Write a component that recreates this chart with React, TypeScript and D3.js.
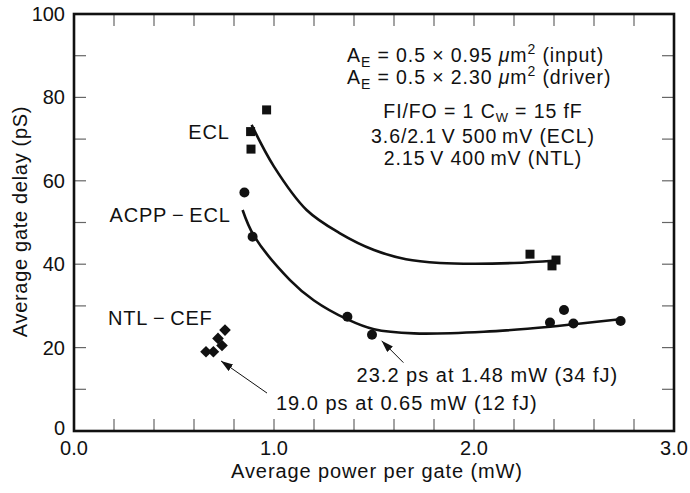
import React, { useRef, useEffect } from "react";
import * as d3 from "d3";

// measured points
const eclPower = [0.963, 0.883, 0.885, 2.28, 2.41, 2.39];
const eclDelay = [77.0, 71.8, 67.6, 42.4, 41.0, 39.6];
const acppPower = [0.852, 0.893, 1.367, 1.49, 2.38, 2.45, 2.497, 2.733];
const acppDelay = [57.2, 46.6, 27.4, 23.1, 26.0, 29.0, 25.8, 26.4];
const ntlPower = [0.66, 0.697, 0.72, 0.755, 0.74];
const ntlDelay = [19.0, 19.0, 22.2, 24.2, 20.5];

// trend lines
const eclFitPower = [0.888, 1.0, 1.163, 1.33, 1.5, 1.66, 1.83, 2.0, 2.2, 2.41];
const eclFitDelay = [73.4, 63.4, 53.0, 47.4, 43.4, 41.2, 40.3, 40.1, 40.3, 40.9];
const acppFitPower = [0.843, 0.9, 1.08, 1.2, 1.37, 1.5, 1.7, 2.05, 2.38, 2.5, 2.73];
const acppFitDelay = [53.0, 46.8, 36.2, 31.3, 26.7, 24.4, 23.4, 23.8, 25.0, 25.6, 26.8];

const xTickLabels = ["0.0", "1.0", "2.0", "3.0"];
const yTickLabels = ["0", "20", "40", "60", "80", "100"];

const FONT = "'Liberation Sans', Arial, Helvetica, sans-serif";

const App = () => {
  const chartRef = useRef<HTMLDivElement>(null);

  useEffect(() => {
    const width = 690;
    const height = 493;
    const margin = { top: 14, right: 16, bottom: 62, left: 74 };
    const chartWidth = width - margin.left - margin.right;
    const chartHeight = height - margin.top - margin.bottom;

    d3.select(chartRef.current).selectAll("*").remove();

    const svg = d3
      .select(chartRef.current)
      .append("svg")
      .attr("width", width)
      .attr("height", height)
      .style("position", "absolute")
      .style("left", 0)
      .style("top", 0)
      .style("background", "#fff")
      .style("font-family", FONT);

    svg
      .append("defs")
      .append("marker")
      .attr("id", "head")
      .attr("viewBox", "0 0 12 8")
      .attr("refX", 12)
      .attr("refY", 4)
      .attr("markerWidth", 12)
      .attr("markerHeight", 8)
      .attr("markerUnits", "userSpaceOnUse")
      .attr("orient", "auto")
      .append("path")
      .attr("d", "M0,0 L12,4 L0,8 Z")
      .attr("fill", "#111");

    const chart = svg
      .append("g")
      .attr("transform", `translate(${margin.left}, ${margin.top})`);

    const x = d3.scaleLinear().domain([0, 3]).range([0, chartWidth]);
    const y = d3.scaleLinear().domain([0, 100]).range([chartHeight, 0]);

    // inner ticks on all four sides
    const xt = d3.range(0.2, 3, 0.2);
    const yt = d3.range(10, 100, 10);
    const tickLen = 12;
    const ticks = chart.append("g").attr("stroke", "#666").attr("stroke-width", 1.2);
    xt.forEach((v) => {
      ticks.append("line").attr("x1", x(v)).attr("x2", x(v)).attr("y1", chartHeight).attr("y2", chartHeight - tickLen);
      ticks.append("line").attr("x1", x(v)).attr("x2", x(v)).attr("y1", 0).attr("y2", tickLen);
    });
    yt.forEach((v) => {
      ticks.append("line").attr("x1", 0).attr("x2", tickLen).attr("y1", y(v)).attr("y2", y(v));
      ticks.append("line").attr("x1", chartWidth).attr("x2", chartWidth - tickLen).attr("y1", y(v)).attr("y2", y(v));
    });

    chart
      .append("rect")
      .attr("width", chartWidth)
      .attr("height", chartHeight)
      .attr("fill", "none")
      .attr("stroke", "#111")
      .attr("stroke-width", 2.6);

    // tick labels
    chart
      .selectAll(".xl")
      .data(xTickLabels)
      .enter()
      .append("text")
      .attr("x", (d) => x(+d))
      .attr("y", chartHeight + 24)
      .attr("text-anchor", "middle")
      .attr("font-size", 20)
      .attr("fill", "#111")
      .text((d) => d);

    chart
      .selectAll(".yl")
      .data(yTickLabels)
      .enter()
      .append("text")
      .attr("x", -9)
      .attr("y", (d) => y(+d) + (d === "0" ? 4 : 7))
      .attr("text-anchor", "end")
      .attr("font-size", 20)
      .attr("fill", "#111")
      .text((d) => d);

    // axis titles
    svg
      .append("text")
      .attr("x", margin.left + chartWidth / 2 + 3)
      .attr("y", 478)
      .attr("text-anchor", "middle")
      .attr("font-size", 20)
      .attr("letter-spacing", 0.9)
      .attr("fill", "#111")
      .text("Average power per gate (mW)");

    svg
      .append("text")
      .attr("transform", `translate(27, ${margin.top + chartHeight / 2 - 1}) rotate(-90)`)
      .attr("text-anchor", "middle")
      .attr("font-size", 20)
      .attr("letter-spacing", 0.7)
      .attr("fill", "#111")
      .text("Average gate delay (pS)");

    // trend lines
    const line = d3
      .line<number>()
      .x((d) => x(d))
      .curve(d3.curveCatmullRom.alpha(0.5));

    chart
      .append("path")
      .attr("d", line.y((d, i) => y(eclFitDelay[i]))(eclFitPower))
      .attr("fill", "none")
      .attr("stroke", "#111")
      .attr("stroke-width", 2.6);

    chart
      .append("path")
      .attr("d", line.y((d, i) => y(acppFitDelay[i]))(acppFitPower))
      .attr("fill", "none")
      .attr("stroke", "#111")
      .attr("stroke-width", 2.6);

    // markers
    chart
      .selectAll(".ecl")
      .data(eclPower)
      .enter()
      .append("rect")
      .attr("x", (d) => x(d) - 4.5)
      .attr("y", (d, i) => y(eclDelay[i]) - 4.5)
      .attr("width", 9)
      .attr("height", 9)
      .attr("fill", "#111");

    chart
      .selectAll(".acpp")
      .data(acppPower)
      .enter()
      .append("circle")
      .attr("cx", (d) => x(d))
      .attr("cy", (d, i) => y(acppDelay[i]))
      .attr("r", 5)
      .attr("fill", "#111");

    const diamond = d3.symbol().type(d3.symbolSquare).size(68);
    chart
      .selectAll(".ntl")
      .data(ntlPower)
      .enter()
      .append("path")
      .attr("d", diamond)
      .attr("transform", (d, i) => `translate(${x(d)}, ${y(ntlDelay[i])}) rotate(45)`)
      .attr("fill", "#111");

    // series labels
    const label = (t: string, px: number, py: number) =>
      chart
        .append("text")
        .attr("x", x(px))
        .attr("y", y(py))
        .attr("text-anchor", "end")
        .attr("font-size", 20)
        .attr("letter-spacing", 0.8)
        .attr("fill", "#111")
        .text(t);
    label("ECL", 0.778, 70.0);
    label("ACPP\u2009\u2212\u2009ECL", 0.783, 50.2);
    label("NTL\u2009\u2212\u2009CEF", 0.693, 25.3);

    // arrows and notes
    const arrow = (x1: number, y1: number, x2: number, y2: number) =>
      chart
        .append("line")
        .attr("x1", x(x1))
        .attr("y1", y(y1))
        .attr("x2", x(x2))
        .attr("y2", y(y2))
        .attr("stroke", "#111")
        .attr("stroke-width", 1)
        .attr("marker-end", "url(#head)");
    arrow(0.965, 9.1, 0.735, 16.8);
    arrow(1.647, 16.4, 1.538, 21.65);

    const note = (t: string, px: number, py: number) =>
      chart
        .append("text")
        .attr("x", x(px))
        .attr("y", y(py))
        .attr("font-size", 20)
        .attr("letter-spacing", 1)
        .attr("fill", "#111")
        .text(t);
    note("23.2 ps at 1.48 mW (34 fJ)", 1.413, 11.8);
    note("19.0 ps at 0.65 mW (12 fJ)", 1.01, 5.0);

    // conditions block
    const block = chart
      .append("g")
      .attr("font-size", 19.5)
      .attr("letter-spacing", 0.9)
      .attr("fill", "#111");
    const areaLine = (py: number, dims: string, tail: string) => {
      const t = block.append("text").attr("x", x(1.365)).attr("y", y(py));
      t.append("tspan").text("A");
      t.append("tspan").attr("font-size", 14).attr("dy", 5).text("E");
      t.append("tspan").attr("dy", -5).text(` = ${dims} `);
      t.append("tspan").attr("font-style", "italic").text("\u03bc");
      t.append("tspan").text("m");
      t.append("tspan").attr("font-size", 14).attr("dy", -8).text("2");
      t.append("tspan").attr("dy", 8).text(` ${tail}`);
    };
    areaLine(88.4, "0.5 \u00d7 0.95", "(input)");
    areaLine(83.3, "0.5 \u00d7 2.30", "(driver)");

    const cx = x(2.045);
    const cw = block
      .append("text")
      .attr("x", cx)
      .attr("y", y(75.0))
      .attr("text-anchor", "middle");
    cw.append("tspan").text("FI/FO = 1 C");
    cw.append("tspan").attr("font-size", 13).attr("dy", 4).text("W");
    cw.append("tspan").attr("dy", -4).text(" = 15 fF");

    block
      .append("text")
      .attr("x", cx)
      .attr("y", y(69.0))
      .attr("text-anchor", "middle")
      .text("3.6/2.1\u2009V 500\u2009mV (ECL)");
    block
      .append("text")
      .attr("x", cx)
      .attr("y", y(63.8))
      .attr("text-anchor", "middle")
      .text("2.15\u2009V 400\u2009mV (NTL)");
  }, []);

  return <div ref={chartRef}></div>;
};

export default App;
